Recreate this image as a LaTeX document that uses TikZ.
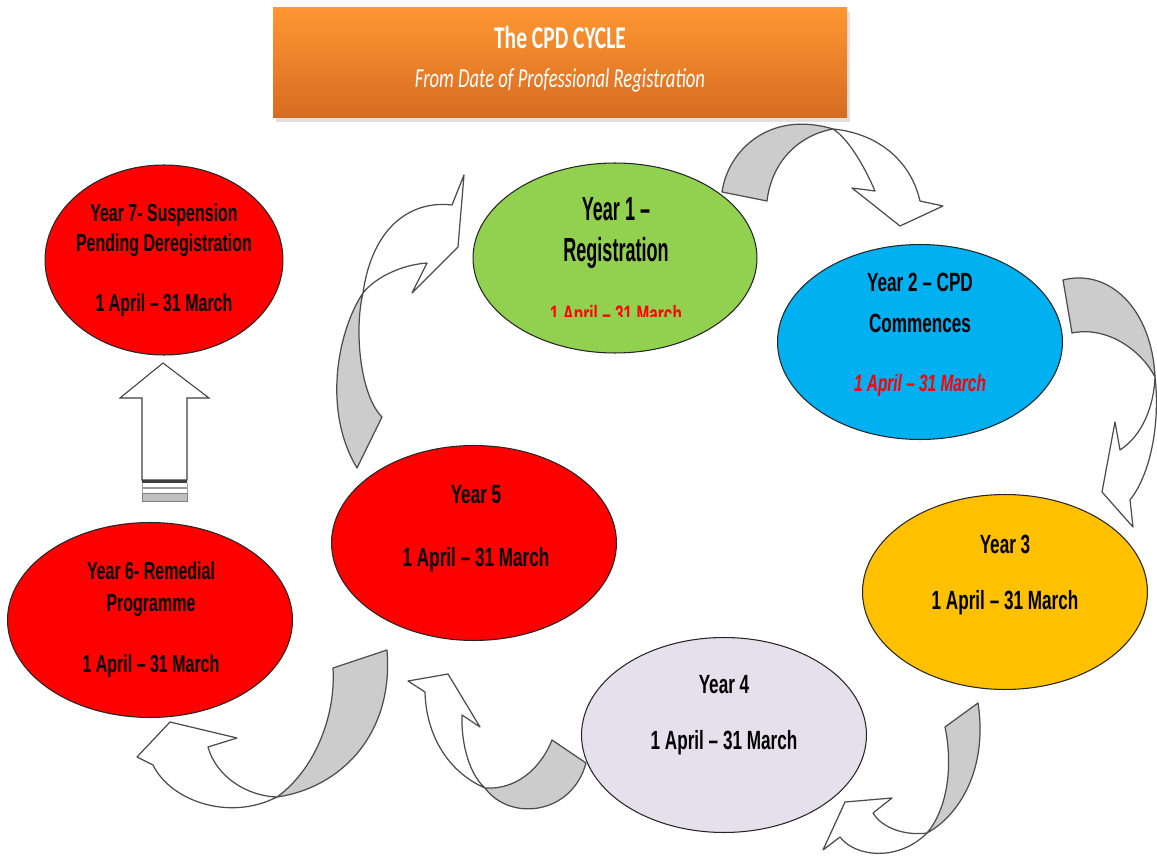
\documentclass[tikz,border=0pt]{standalone}
\usepackage{fontspec}
\setmainfont{Liberation Sans}
\newfontfamily\cyclefont[FakeStretch=0.65,Ligatures=TeX]{Liberation Sans}
\newfontfamily\bigcyclefont[FakeStretch=0.54,Ligatures=TeX]{Liberation Sans}
\newfontfamily\headfont[FakeStretch=0.68,Ligatures=TeX]{Carlito}
\usetikzlibrary{shapes.geometric}
\definecolor{yrred}{RGB}{255,0,0}
\definecolor{yrgreen}{RGB}{146,208,80}
\definecolor{yrblue}{RGB}{0,176,240}
\definecolor{yrgold}{RGB}{255,192,0}
\definecolor{yrlilac}{RGB}{230,224,236}
\definecolor{ribbongray}{RGB}{204,204,204}
\definecolor{headtop}{RGB}{255,150,50}
\definecolor{headbot}{RGB}{214,108,34}
\tikzstyle{year}=[ellipse,draw=black!85,line width=0.6pt,minimum width=5.7cm,minimum height=3.9cm,inner sep=0pt]
\tikzstyle{yeartext}=[align=center,inner sep=0pt,font=\cyclefont\bfseries\fontsize{15}{17}\selectfont]
\tikzstyle{ribbonback}=[draw=black!70,line width=0.7pt,fill=ribbongray,line join=round]
\tikzstyle{ribbonfront}=[draw=black!70,line width=0.7pt,fill=white,line join=round]

\begin{document}
\begin{tikzpicture}[x=0.02cm,y=-0.02cm]

  \useasboundingbox (0,0) rectangle (1157,858);

  % header
  \fill[black!12] (276,12) rectangle (850,122);
  \shade[top color=headtop,bottom color=headbot] (273,8) rectangle (847,118);
  \node[text=white,font=\headfont\bfseries\fontsize{18}{20}\selectfont] (title) at (560,38) {The CPD CYCLE};
  \node[text=white,font=\headfont\itshape\fontsize{15.6}{18}\selectfont] (subtitle) at (560,80) {From Date of Professional Registration};

  % Year 1 -> Year 2
  \draw[ribbonback] (722,192) .. controls (728,150) and (770,110) .. (833,129)
    .. controls (800,135) and (772,160) .. (767,201) -- cycle;
  \draw[ribbonfront] (833,129) .. controls (875,133) and (910,158) .. (920,201)
    -- (943,206) -- (900,226) -- (852,188) -- (875,191)
    .. controls (866,170) and (850,140) .. (833,129) -- cycle;

  % Year 2 -> Year 3
  \draw[ribbonback] (1063,280) .. controls (1110,268) and (1152,310) .. (1155,377)
    .. controls (1140,348) and (1105,326) .. (1072,333) -- cycle;
  \draw[ribbonfront] (1155,377) .. controls (1154,405) and (1143,435) .. (1120,450)
    -- (1115,422) -- (1102,492) -- (1133,527) -- (1130,500)
    .. controls (1152,472) and (1160,420) .. (1155,377) -- cycle;

  % Year 3 -> Year 4
  \draw[ribbonback] (978,703) -- (945,727) .. controls (953,765) and (948,808) .. (927,833)
    .. controls (960,815) and (988,768) .. (978,703) -- cycle;
  \draw[ribbonfront] (927,833) .. controls (905,836) and (882,828) .. (873,813)
    -- (892,798) -- (845,802) -- (823,850) -- (840,837)
    .. controls (855,857) and (898,862) .. (927,833) -- cycle;

  % Year 4 -> Year 5
  \draw[ribbonback] (586,763) -- (552,740) .. controls (540,770) and (515,790) .. (485,788)
    .. controls (510,822) and (572,815) .. (586,763) -- cycle;
  \draw[ribbonfront] (485,788) .. controls (470,775) and (461,745) .. (462,715)
    -- (480,727) -- (448,674) -- (408,681) -- (425,692)
    .. controls (426,735) and (448,772) .. (485,788) -- cycle;

  % Year 5 -> Year 6
  \draw[ribbonback] (387,650) -- (333,668) .. controls (336,720) and (312,772) .. (277,797)
    .. controls (340,788) and (394,735) .. (387,650) -- cycle;
  \draw[ribbonfront] (277,797) .. controls (246,796) and (216,776) .. (208,747)
    -- (237,738) -- (170,722) -- (137,757) -- (153,765)
    .. controls (170,800) and (228,822) .. (277,797) -- cycle;

  % Year 5 -> Year 1
  \draw[ribbonback] (357,468) -- (382,417) .. controls (360,395) and (354,330) .. (363,293)
    .. controls (338,330) and (322,410) .. (357,468) -- cycle;
  \draw[ribbonfront] (363,293) .. controls (375,278) and (400,265) .. (427,263)
    -- (412,293) -- (458,247) -- (464,175) -- (452,205)
    .. controls (410,200) and (372,228) .. (363,293) -- cycle;

  % Year 6 -> Year 7
  \draw[black!75,line width=0.6pt,fill=white] (163,363) -- (209,398) -- (187,398) -- (187,480)
    -- (142,480) -- (142,398) -- (120,398) -- cycle;
  \fill[black!75] (142,480) rectangle (187,483);
  \draw[black!40,line width=0.6pt] (142,488) -- (187,488);
  \draw[black!50,line width=0.5pt,fill=black!25] (142,493) rectangle (187,501);
  \draw[black!35,line width=0.5pt] (142,483) -- (142,493) (187,483) -- (187,493);

  % years
  \node[year,fill=yrred,minimum width=4.76cm,minimum height=3.8cm] (y7) at (164,260) {};
  \node[year,fill=yrgreen,minimum width=5.68cm,minimum height=3.8cm] (y1) at (615,258) {};
  \node[year,fill=yrblue] (y2) at (920,342) {};
  \node[year,fill=yrgold] (y3) at (1005,592) {};
  \node[year,fill=yrlilac] (y4) at (724,735) {};
  \node[year,fill=yrred] (y5) at (474,543) {};
  \node[year,fill=yrred] (y6) at (150,620) {};

  % year texts
  \node[yeartext,font=\cyclefont\bfseries\fontsize{14}{17}\selectfont] (t7) at (y7) {Year 7- Suspension\\Pending Deregistration\\[17pt]1 April -- 31 March};
  \node[yeartext,font=\bigcyclefont\bfseries\fontsize{19}{23}\selectfont] (t1) at (616,233) {Year 1 --\\Registration};
  \begin{scope}
    \clip (473,250) rectangle (757,317);
    \node[yeartext,text=yrred,font=\cyclefont\bfseries\fontsize{13.5}{16}\selectfont] (d1) at (616,316) {1 April -- 31 March};
  \end{scope}
  \node[yeartext] (t2) at (920,335) {Year 2 -- CPD\\[6pt]Commences\\[17pt]{\color{yrred}\itshape\fontsize{13.5}{16}\selectfont 1 April -- 31 March}};
  \node[yeartext] (t3) at (1005,575) {Year 3\\[15pt]1 April -- 31 March};
  \node[yeartext] (t4) at (724,715) {Year 4\\[15pt]1 April -- 31 March};
  \node[yeartext] (t5) at (476,529) {Year 5\\[19pt]1 April -- 31 March};
  \node[yeartext,font=\cyclefont\bfseries\fontsize{14}{18}\selectfont] (t6) at (151,620) {Year 6- Remedial\\Programme\\[17pt]1 April -- 31 March};

\end{tikzpicture}
\end{document}
